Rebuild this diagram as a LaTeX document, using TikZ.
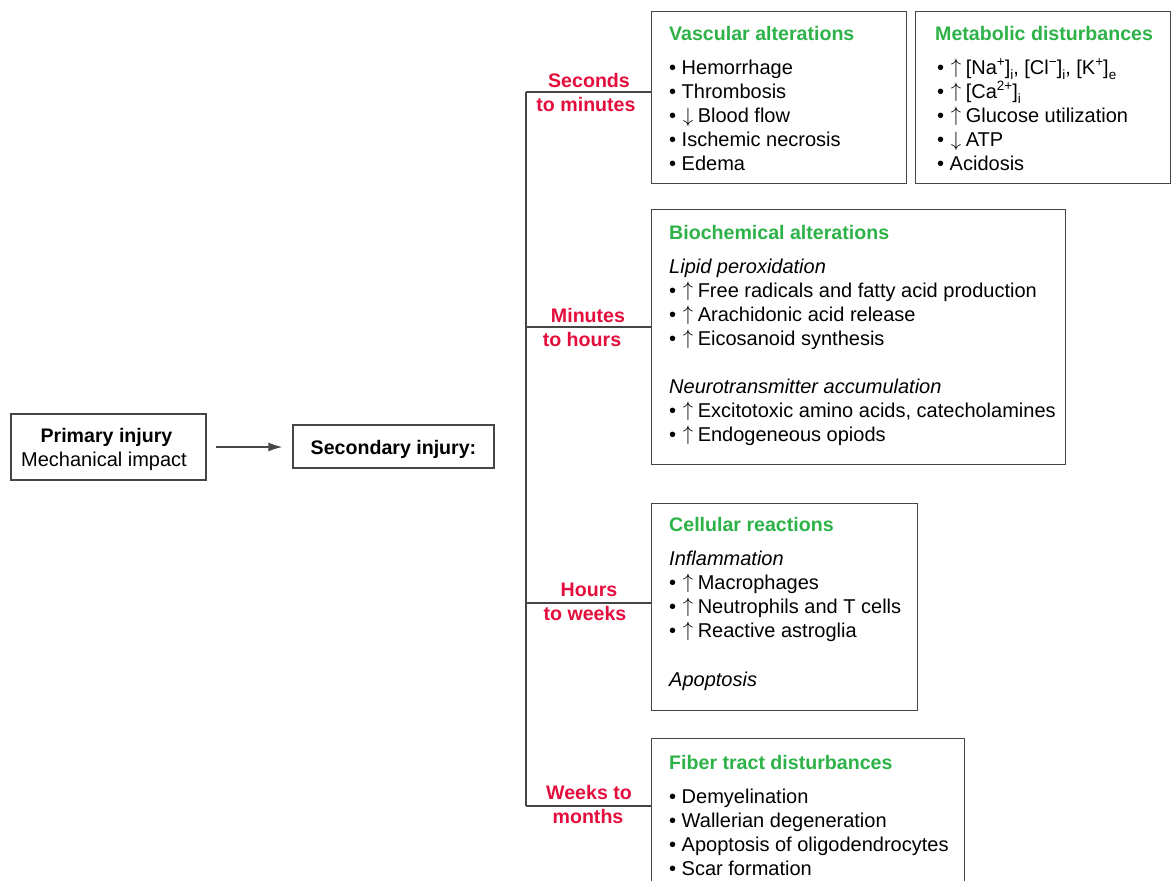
\documentclass[tikz,border=0pt]{standalone}
\usepackage{fontspec}
\setmainfont{Liberation Sans}
\usetikzlibrary{arrows.meta}
\definecolor{titlegreen}{RGB}{45,178,72}
\definecolor{labelred}{RGB}{228,14,60}
\definecolor{edge}{RGB}{70,70,70}
\newcommand\fs{\fontsize{20}{24}\selectfont}
\newcommand\fb{\fontsize{19.6}{24}\selectfont}
\newcommand\myup{\makebox[16pt][l]{\hspace{1pt}\raisebox{1pt}{$\uparrow$}}}
\newcommand\mydn{\makebox[16pt][l]{\hspace{1pt}\raisebox{0pt}{$\downarrow$}}}
\newcommand\sups[1]{\raisebox{0.36em}{\fontsize{13.5}{14}\selectfont #1}}
\newcommand\subs[1]{\raisebox{-0.28em}{\fontsize{13.5}{14}\selectfont #1}}
\tikzset{
  box/.style={draw=edge, line width=1.3pt, anchor=north west, inner sep=0pt},
  cbox/.style={draw=edge, line width=1.3pt, inner sep=0pt},
  txt/.style={anchor=base west, inner sep=0pt, font=\fs},
  ttl/.style={anchor=base west, inner sep=0pt, font=\fb\bfseries, text=titlegreen},
  ctxt/.style={anchor=base, inner sep=0pt, font=\fs},
  lbl/.style={anchor=base, inner sep=0pt, font=\fb\bfseries, text=labelred},
  conn/.style={draw=edge, line width=1.3pt},
}
\begin{document}
\begin{tikzpicture}[x=1pt,y=-1pt]
\useasboundingbox (0,0) rectangle (1171,881);
\clip (0,0) rectangle (1171,881);

% left boxes
\node[cbox, minimum width=195pt, minimum height=66pt] (prim) at (108.5,447) {};
\node[ctxt, font=\fb\bfseries] (primt) at (106.5,442) {Primary injury};
\node[ctxt] (primm) at (104,466) {Mechanical impact};
\node[cbox, minimum width=201pt, minimum height=43pt] (sec) at (393.5,446.5) {};
\node[ctxt, font=\fb\bfseries] (sect) at (393.5,454) {Secondary injury:};
\draw[conn, -{Latex[length=14pt,width=9pt]}, shorten <=9pt, shorten >=10pt] (prim.east) -- (sec.west|-prim.east);

% right boxes
\node[box, minimum width=255pt, minimum height=172pt] (vasc) at (651,11) {};
\node[box, minimum width=255pt, minimum height=172pt] (meta) at (915,11) {};
\node[box, minimum width=414pt, minimum height=255pt] (bio) at (651,209) {};
\node[box, minimum width=266pt, minimum height=207pt] (cell) at (651,503) {};
\node[box, minimum width=313pt, minimum height=170pt] (fib) at (651,738) {};

% connectors
\coordinate (b1) at (526,92);
\coordinate (b2) at (526,327);
\coordinate (b3) at (526,603);
\coordinate (b4) at (526,806);
\draw[conn] (b1) -- (b4);
\draw[conn] (b1) -- (b1-|vasc.west);
\draw[conn] (b2) -- (b2-|bio.west);
\draw[conn] (b3) -- (b3-|cell.west);
\draw[conn] (b4) -- (b4-|fib.west);

% time labels
\node[lbl] (l1a) at (589,87) {Seconds};
\node[lbl] (l1b) at (586,111) {to minutes};
\node[lbl] (l2a) at (588,322) {Minutes};
\node[lbl] (l2b) at (582,346) {to hours};
\node[lbl] (l3a) at (589,596) {Hours};
\node[lbl] (l3b) at (585,620) {to weeks};
\node[lbl] (l4a) at (589,799) {Weeks to};
\node[lbl] (l4b) at (588,823) {months};

% vascular
\node[ttl] (vt) at (669,40) {Vascular alterations};
\node[txt] (v1) at (669,74) {• Hemorrhage};
\node[txt] (v2) at (669,98) {• Thrombosis};
\node[txt] (v3) at (669,122) {• \mydn Blood flow};
\node[txt] (v4) at (669,146) {• Ischemic necrosis};
\node[txt] (v5) at (669,170) {• Edema};

% metabolic
\node[ttl] (mt) at (935,40) {Metabolic disturbances};
\node[txt] (m1) at (937,74) {• \myup[Na\sups{+}]\subs{i}, [Cl\sups{−}]\subs{i}, [K\sups{+}]\subs{e}};
\node[txt] (m2) at (937,98) {• \myup[Ca\sups{2+}]\subs{i}};
\node[txt] (m3) at (937,122) {• \myup Glucose utilization};
\node[txt] (m4) at (937,146) {• \mydn ATP};
\node[txt] (m5) at (937,170) {• Acidosis};

% biochemical
\node[ttl] (bt) at (669,239) {Biochemical alterations};
\node[txt, font=\fs\itshape] (bl) at (669,273) {Lipid peroxidation};
\node[txt] (b1t) at (669,297) {• \myup Free radicals and fatty acid production};
\node[txt] (b2t) at (669,321) {• \myup Arachidonic acid release};
\node[txt] (b3t) at (669,345) {• \myup Eicosanoid synthesis};
\node[txt, font=\fs\itshape] (bn) at (669,393) {Neurotransmitter accumulation};
\node[txt] (b4t) at (669,417) {• \myup Excitotoxic amino acids, catecholamines};
\node[txt] (b5t) at (669,441) {• \myup Endogeneous opiods};

% cellular
\node[ttl] (ct) at (669,531) {Cellular reactions};
\node[txt, font=\fs\itshape] (ci) at (669,565) {Inflammation};
\node[txt] (c1) at (669,589) {• \myup Macrophages};
\node[txt] (c2) at (669,613) {• \myup Neutrophils and T cells};
\node[txt] (c3) at (669,637) {• \myup Reactive astroglia};
\node[txt, font=\fs\itshape] (ca) at (669,686) {Apoptosis};

% fiber
\node[ttl] (ft) at (669,769) {Fiber tract disturbances};
\node[txt] (f1) at (669,803) {• Demyelination};
\node[txt] (f2) at (669,827) {• Wallerian degeneration};
\node[txt] (f3) at (669,851) {• Apoptosis of oligodendrocytes};
\node[txt] (f4) at (669,875) {• Scar formation};
\end{tikzpicture}
\end{document}
